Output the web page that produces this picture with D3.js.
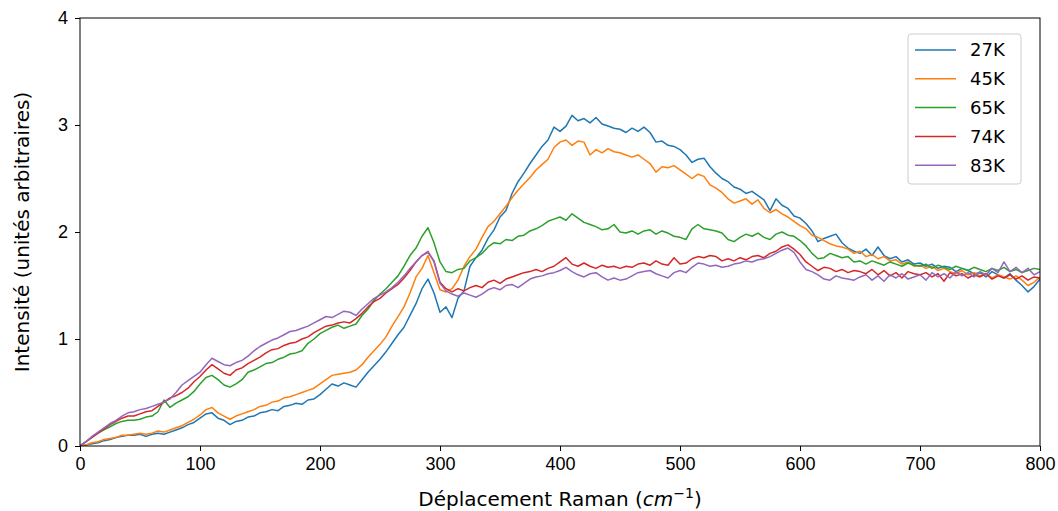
<!DOCTYPE html>
<html>
<head>
<meta charset="utf-8">
<script src="https://cdn.jsdelivr.net/npm/d3@7"></script>
<style>
  body { margin: 0; background: #fff; }
  svg { font-family: "DejaVu Sans", sans-serif; }
  .axis text { font-size: 18px; fill: #000; }
  .axis path, .axis line { stroke: #000; stroke-width: 1; }
  .label { font-size: 20px; fill: #000; }
</style>
</head>
<body>
<div id="chart"></div>
<script>
// Raman shift grid, one reading every 5 cm-1
var shiftStep = 5;
var shiftMax = 800;

var series27K = [0.00,0.01,0.02,0.03,0.05,0.06,0.08,0.09,0.10,0.10,0.11,0.09,0.11,0.12,0.11,0.13,0.15,0.17,0.20,0.22,
  0.26,0.30,0.31,0.26,0.24,0.20,0.23,0.24,0.27,0.28,0.31,0.32,0.34,0.33,0.37,0.38,0.40,0.39,0.43,0.44,
  0.48,0.53,0.58,0.56,0.59,0.57,0.55,0.62,0.69,0.75,0.81,0.88,0.96,1.04,1.11,1.22,1.33,1.47,1.56,1.43,
  1.25,1.30,1.20,1.38,1.45,1.68,1.76,1.83,1.94,2.02,2.14,2.20,2.36,2.47,2.55,2.64,2.72,2.80,2.86,2.98,
  2.94,2.99,3.09,3.04,3.06,3.02,3.07,3.01,2.99,2.97,2.96,2.93,2.97,2.94,2.98,2.93,2.84,2.85,2.81,2.80,
  2.77,2.72,2.65,2.68,2.69,2.61,2.55,2.50,2.47,2.42,2.40,2.36,2.38,2.34,2.30,2.20,2.31,2.25,2.22,2.15,
  2.13,2.08,2.01,1.91,1.94,1.96,1.98,1.90,1.85,1.82,1.80,1.84,1.78,1.86,1.78,1.75,1.77,1.72,1.74,1.70,
  1.71,1.68,1.70,1.66,1.68,1.67,1.63,1.66,1.64,1.61,1.62,1.58,1.63,1.60,1.57,1.61,1.55,1.50,1.44,1.49,1.56];

var series45K = [0.00,0.01,0.03,0.04,0.06,0.07,0.08,0.10,0.10,0.11,0.12,0.11,0.12,0.14,0.13,0.15,0.17,0.19,0.22,0.25,
  0.29,0.34,0.36,0.31,0.28,0.25,0.28,0.30,0.32,0.34,0.37,0.38,0.41,0.42,0.45,0.46,0.48,0.50,0.52,0.54,
  0.58,0.62,0.66,0.67,0.68,0.69,0.71,0.76,0.83,0.89,0.95,1.02,1.12,1.21,1.30,1.43,1.58,1.66,1.78,1.62,
  1.46,1.44,1.47,1.55,1.68,1.77,1.84,1.95,2.05,2.10,2.17,2.24,2.32,2.39,2.45,2.51,2.58,2.63,2.68,2.79,
  2.84,2.86,2.81,2.85,2.84,2.72,2.77,2.74,2.78,2.75,2.74,2.72,2.70,2.72,2.68,2.64,2.56,2.61,2.60,2.62,
  2.58,2.54,2.50,2.54,2.52,2.44,2.41,2.37,2.31,2.27,2.29,2.31,2.26,2.30,2.22,2.18,2.21,2.17,2.14,2.10,
  2.06,2.03,1.97,1.95,1.92,1.89,1.87,1.86,1.84,1.80,1.82,1.77,1.79,1.75,1.77,1.73,1.74,1.70,1.72,1.68,
  1.69,1.66,1.68,1.64,1.66,1.63,1.61,1.64,1.60,1.62,1.59,1.61,1.57,1.60,1.58,1.56,1.59,1.55,1.50,1.53,1.58];

var series65K = [0.00,0.04,0.08,0.12,0.15,0.18,0.21,0.23,0.24,0.24,0.25,0.27,0.28,0.32,0.43,0.36,0.40,0.43,0.46,0.51,
  0.58,0.64,0.66,0.62,0.57,0.55,0.58,0.62,0.69,0.71,0.74,0.77,0.78,0.81,0.83,0.86,0.87,0.89,0.96,1.00,
  1.05,1.08,1.11,1.13,1.10,1.12,1.14,1.22,1.28,1.36,1.42,1.47,1.53,1.59,1.68,1.78,1.85,1.96,2.04,1.90,
  1.72,1.63,1.62,1.65,1.66,1.73,1.76,1.80,1.86,1.90,1.89,1.93,1.92,1.96,1.97,2.01,2.03,2.06,2.10,2.12,
  2.14,2.11,2.17,2.13,2.09,2.07,2.05,2.02,2.03,2.07,2.00,1.99,2.01,1.98,2.01,2.02,1.98,2.01,1.99,1.96,
  1.95,1.93,2.03,2.07,2.03,2.02,2.01,1.99,1.93,1.91,1.95,1.98,1.96,1.99,1.95,1.93,1.98,2.00,1.97,1.96,
  1.92,1.87,1.80,1.75,1.76,1.80,1.78,1.76,1.77,1.72,1.73,1.70,1.73,1.71,1.69,1.72,1.70,1.68,1.71,1.69,
  1.68,1.70,1.66,1.69,1.67,1.65,1.68,1.66,1.64,1.67,1.65,1.63,1.66,1.64,1.67,1.63,1.65,1.62,1.64,1.66,1.65];

var series74K = [0.00,0.04,0.08,0.12,0.16,0.20,0.23,0.26,0.28,0.28,0.30,0.32,0.33,0.37,0.41,0.45,0.47,0.50,0.54,0.60,
  0.65,0.71,0.76,0.72,0.68,0.66,0.71,0.73,0.77,0.80,0.83,0.87,0.90,0.91,0.94,0.96,0.97,1.00,1.02,1.06,
  1.09,1.12,1.13,1.15,1.16,1.15,1.19,1.24,1.30,1.35,1.38,1.43,1.47,1.51,1.57,1.64,1.72,1.78,1.81,1.73,
  1.53,1.47,1.44,1.47,1.45,1.48,1.50,1.48,1.53,1.55,1.52,1.56,1.58,1.60,1.62,1.63,1.65,1.63,1.66,1.68,
  1.72,1.76,1.70,1.68,1.71,1.68,1.66,1.69,1.67,1.68,1.66,1.68,1.67,1.70,1.71,1.69,1.73,1.70,1.69,1.76,
  1.70,1.71,1.75,1.77,1.76,1.78,1.77,1.73,1.75,1.73,1.76,1.74,1.77,1.78,1.76,1.80,1.82,1.86,1.88,1.84,
  1.79,1.72,1.68,1.64,1.67,1.66,1.63,1.65,1.62,1.64,1.63,1.61,1.65,1.60,1.64,1.59,1.62,1.57,1.63,1.61,
  1.60,1.62,1.58,1.61,1.54,1.62,1.59,1.61,1.57,1.60,1.58,1.61,1.56,1.59,1.57,1.60,1.56,1.59,1.55,1.58,1.57];

var series83K = [0.00,0.04,0.09,0.13,0.17,0.21,0.24,0.28,0.31,0.32,0.34,0.35,0.37,0.39,0.41,0.44,0.50,0.57,0.61,0.65,
  0.69,0.76,0.82,0.79,0.76,0.75,0.78,0.80,0.84,0.89,0.93,0.96,0.99,1.01,1.04,1.07,1.08,1.10,1.12,1.15,
  1.18,1.21,1.20,1.23,1.26,1.25,1.22,1.28,1.33,1.38,1.41,1.44,1.48,1.53,1.59,1.66,1.72,1.78,1.82,1.72,
  1.52,1.45,1.42,1.40,1.43,1.41,1.39,1.42,1.46,1.48,1.46,1.50,1.51,1.48,1.52,1.56,1.58,1.59,1.61,1.62,
  1.64,1.67,1.63,1.60,1.58,1.61,1.62,1.58,1.55,1.57,1.55,1.56,1.59,1.62,1.63,1.64,1.61,1.59,1.57,1.62,
  1.64,1.62,1.67,1.71,1.70,1.68,1.69,1.67,1.68,1.70,1.71,1.73,1.72,1.74,1.75,1.77,1.80,1.83,1.85,1.81,
  1.72,1.65,1.63,1.60,1.56,1.55,1.59,1.57,1.56,1.55,1.58,1.60,1.55,1.59,1.54,1.60,1.57,1.61,1.56,1.58,
  1.60,1.55,1.62,1.58,1.61,1.57,1.63,1.59,1.62,1.58,1.63,1.60,1.66,1.62,1.72,1.63,1.67,1.62,1.66,1.60,1.63];

var seriesNames = ["27K", "45K", "65K", "74K", "83K"];
var seriesColors = ["#1f77b4", "#ff7f0e", "#2ca02c", "#d62728", "#9467bd"];
var allSeries = [series27K, series45K, series65K, series74K, series83K];

var xTicks = [0, 100, 200, 300, 400, 500, 600, 700, 800];
var yTicks = [0, 1, 2, 3, 4];

var margin = {top: 18, right: 18, bottom: 65, left: 80},
    width = 1058 - margin.left - margin.right,
    height = 511 - margin.top - margin.bottom;

var svg = d3.select("#chart").append("svg")
    .attr("width", 1058)
    .attr("height", 511)
    .append("g")
    .attr("transform", "translate(" + margin.left + "," + margin.top + ")");

var x = d3.scaleLinear().domain([0, shiftMax]).range([0, width]);
var y = d3.scaleLinear().domain([0, 4]).range([height, 0]);

var line = d3.line()
    .x(function(d, i) { return x(i * shiftStep); })
    .y(function(d) { return y(d); });

svg.append("defs").append("clipPath")
    .attr("id", "clip")
    .append("rect")
    .attr("width", width)
    .attr("height", height);

svg.append("g")
    .attr("clip-path", "url(#clip)")
    .selectAll("path.series")
    .data(allSeries)
    .enter()
    .append("path")
    .attr("class", "series")
    .attr("fill", "none")
    .attr("stroke", function(d, i) { return seriesColors[i]; })
    .attr("stroke-width", 1.5)
    .attr("stroke-linejoin", "round")
    .attr("d", line);

// frame
svg.append("rect")
    .attr("width", width)
    .attr("height", height)
    .attr("fill", "none")
    .attr("stroke", "#000")
    .attr("stroke-width", 1);

var xAxis = d3.axisBottom(x).tickValues(xTicks).tickSize(5).tickPadding(6);
var yAxis = d3.axisLeft(y).tickValues(yTicks).tickSize(5).tickPadding(7).tickFormat(d3.format("d"));

svg.append("g")
    .attr("class", "x-axis axis")
    .attr("transform", "translate(0," + height + ")")
    .call(xAxis)
    .call(function(g) { g.select(".domain").remove(); });

svg.append("g")
    .attr("class", "y-axis axis")
    .call(yAxis)
    .call(function(g) { g.select(".domain").remove(); });

var xLabel = svg.append("text")
    .attr("class", "label")
    .attr("x", width / 2)
    .attr("y", height + 60)
    .attr("text-anchor", "middle");
xLabel.append("tspan").text("Déplacement Raman (");
xLabel.append("tspan").attr("font-style", "italic").text("cm");
xLabel.append("tspan").attr("font-size", "14px").attr("dy", -8).text("−1");
xLabel.append("tspan").attr("dy", 8).text(")");

svg.append("text")
    .attr("class", "label")
    .attr("transform", "rotate(-90)")
    .attr("x", -height / 2)
    .attr("y", -51)
    .attr("text-anchor", "middle")
    .text("Intensité (unités arbitraires)");

// legend
var legend = svg.append("g")
    .attr("transform", "translate(" + (908 - margin.left) + "," + (34 - margin.top) + ")");

legend.append("rect")
    .attr("width", 113)
    .attr("height", 150)
    .attr("rx", 3)
    .attr("fill", "#fff")
    .attr("fill-opacity", 0.8)
    .attr("stroke", "#ccc")
    .attr("stroke-width", 1);

var items = legend.selectAll("g.item")
    .data(seriesNames)
    .enter()
    .append("g")
    .attr("class", "item")
    .attr("transform", function(d, i) { return "translate(0," + (16 + i * 28.8) + ")"; });

items.append("line")
    .attr("x1", 7)
    .attr("x2", 48)
    .attr("stroke", function(d, i) { return seriesColors[i]; })
    .attr("stroke-width", 1.5);

items.append("text")
    .attr("x", 62)
    .attr("dy", "0.35em")
    .attr("font-size", "18px")
    .text(function(d) { return d; });
</script>
</body>
</html>
